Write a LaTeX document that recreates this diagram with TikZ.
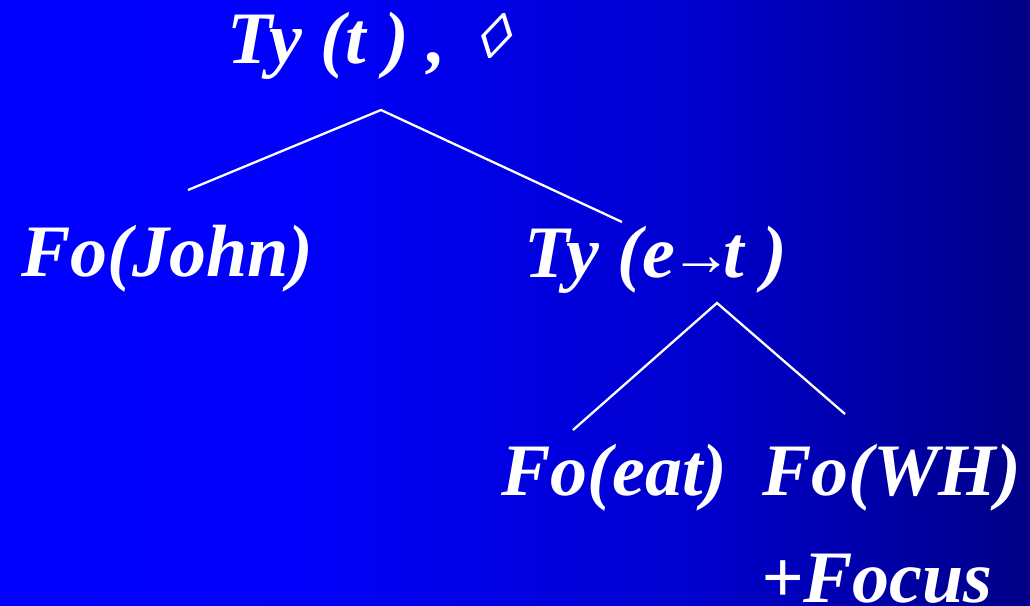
\documentclass[tikz,border=0pt]{standalone}
\usepackage{fontspec}
\setmainfont{Liberation Serif}
\definecolor{slidecolor0001}{RGB}{0,0,255}
\definecolor{slidecolor0002}{RGB}{0,0,250}
\definecolor{slidecolor0003}{RGB}{0,0,205}
\definecolor{slidecolor0004}{RGB}{0,0,135}
\pgfdeclarehorizontalshading{slidebg}{100bp}{color(0bp)=(slidecolor0001); color(25bp)=(slidecolor0001); color(39.5bp)=(slidecolor0002); color(59bp)=(slidecolor0003); color(75bp)=(slidecolor0004); color(100bp)=(slidecolor0004)}

\begin{document}
\begin{tikzpicture}[yscale=-1
,tstyle0/.style={color=white,anchor=base west,inner sep=0,font=\fontsize{74}{80}\selectfont\bfseries\itshape}
,lstyle0/.style={color=white,line width=2.3pt}
]
\useasboundingbox (0pt,0pt) rectangle (1030pt,605pt);
\shade[shading=slidebg] (0pt,0pt) rectangle (1030pt,605pt);
\node[tstyle0] (root) at (227pt,63pt) {Ty (t ) ,\kern0.37em\raisebox{5pt}{\tikz[baseline=0pt]\node[color=white,inner sep=0,anchor=base,xslant=0.32,transform shape,font=\fontsize{64}{64}\selectfont\bfseries]{◊};}};
\node[tstyle0] (john) at (21pt,276pt) {Fo(John)};
\node[tstyle0] (pred) at (524pt,277pt) {Ty (e\kern-0.02em\raisebox{2pt}{\fontsize{62}{62}\selectfont\mdseries\kern-0.06em→\kern-0.14em}t )};
\node[tstyle0] (eat) at (501pt,495pt) {Fo(eat)};
\node[tstyle0] (wh) at (762pt,495pt) {Fo(WH)};
\node[tstyle0] (focus) at (761pt,602pt) {+Focus};
\coordinate (root-top) at (381pt,110pt);
\coordinate (john-top) at (188pt,190pt);
\coordinate (pred-top) at (622pt,222pt);
\coordinate (pred-foot) at (717pt,303pt);
\coordinate (eat-top) at (573pt,430pt);
\coordinate (wh-top) at (845pt,414pt);
\draw[lstyle0] (john-top) -- (root-top) -- (pred-top);
\draw[lstyle0] (eat-top) -- (pred-foot) -- (wh-top);
\end{tikzpicture}
\end{document}
